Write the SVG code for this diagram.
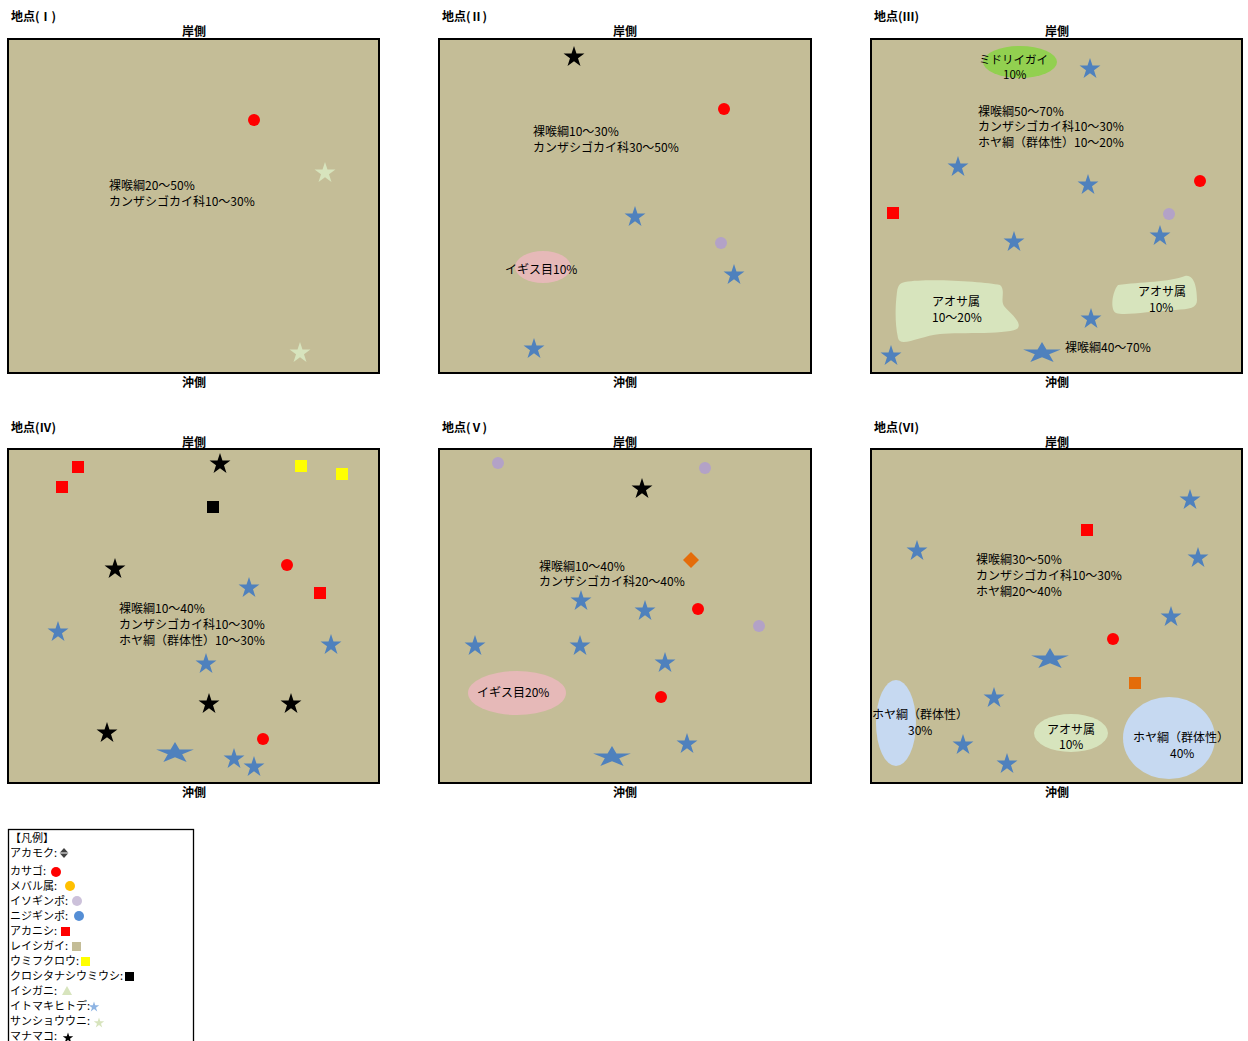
<svg xmlns="http://www.w3.org/2000/svg" xmlns:xlink="http://www.w3.org/1999/xlink" width="1248" height="1041" viewBox="0 0 1248 1041">
<style>
text{font-family:"Noto Sans CJK JP","Liberation Sans",sans-serif;fill:#000;}
.t{font-size:12px;}
.title{font-size:12px;font-weight:bold;}
.side{font-size:12px;font-weight:bold;text-anchor:middle;}
.lg{font-size:11px;}
.panel{fill:#C4BD97;stroke:#000;stroke-width:2;}
.bs{fill:#4F81BD;}
.ks{fill:#000;}
.ps{fill:#D7E4BD;}
.red{fill:#FF0000;}
.pur{fill:#B3A2C7;}
.yel{fill:#FFFF00;}
.org{fill:#E46C0A;}
.blk{fill:#000;}
.aosa{fill:#D7E4BD;}
.pink{fill:#E6B9B8;}
.hoya{fill:#C6D9F1;}
</style>
<defs>
<path id="star" d="M0,-11 L2.469,-3.398 L10.462,-3.399 L3.994,1.298 L6.466,8.899 L0,4.2 L-6.466,8.899 L-3.994,1.298 L-10.462,-3.399 L-2.469,-3.398 Z"/>
</defs>
<rect width="1248" height="1041" fill="#fff"/>

<g id="panel-1">
<text class="title" x="11" y="21">地点(Ⅰ)</text>
<text class="side" x="194" y="36">岸側</text>
<rect class="panel" x="8" y="39" width="371" height="334"/>
<text class="side" x="194" y="387">沖側</text>
<circle class="red" cx="254" cy="120" r="6"/>
<use href="#star" class="ps" x="325" y="173"/>
<use href="#star" class="ps" x="300" y="353"/>
<text class="t" x="109" y="190">裸喉綱20～50%<tspan x="109" y="206">カンザシゴカイ科10～30%</tspan></text>
</g>

<g id="panel-2">
<text class="title" x="442" y="21">地点(Ⅱ)</text>
<text class="side" x="625" y="36">岸側</text>
<rect class="panel" x="439" y="39" width="372" height="334"/>
<text class="side" x="625" y="387">沖側</text>
<use href="#star" class="ks" x="574" y="57"/>
<circle class="red" cx="724" cy="109" r="6"/>
<text class="t" x="533" y="136">裸喉綱10～30%<tspan x="533" y="152">カンザシゴカイ科30～50%</tspan></text>
<use href="#star" class="bs" x="635" y="217"/>
<circle class="pur" cx="721" cy="243" r="6"/>
<use href="#star" class="bs" x="734" y="275"/>
<ellipse class="pink" cx="543" cy="267" rx="28" ry="16"/>
<text class="t" x="505" y="274">イギス目10%</text>
<use href="#star" class="bs" x="534" y="349"/>
</g>

<g id="panel-3">
<text class="title" x="874" y="21">地点(Ⅲ)</text>
<text class="side" x="1057" y="36">岸側</text>
<rect class="panel" x="871" y="39" width="371" height="334"/>
<text class="side" x="1057" y="387">沖側</text>
<ellipse cx="1020" cy="62" rx="37" ry="16" fill="#92D050"/>
<text class="t" x="979" y="64" style="font-size:11.5px">ミドリイガイ</text>
<text class="t" x="1003" y="79" style="font-size:11.5px">10%</text>
<use href="#star" class="bs" x="1090" y="69"/>
<text class="t" x="978" y="116">裸喉綱50～70%<tspan x="978" y="131">カンザシゴカイ科10～30%</tspan><tspan x="978" y="147">ホヤ綱（群体性）10～20%</tspan></text>
<use href="#star" class="bs" x="958" y="167"/>
<use href="#star" class="bs" x="1088" y="185"/>
<circle class="red" cx="1200" cy="181" r="6"/>
<rect class="red" x="887" y="207" width="12" height="12"/>
<circle class="pur" cx="1169" cy="214" r="6"/>
<use href="#star" class="bs" x="1014" y="242"/>
<use href="#star" class="bs" x="1160" y="236"/>
<path class="aosa" d="M905,282 C930,278 985,282 1000,285 C1006,290 1000,300 1004,306 C1010,313 1022,322 1018,328 C1012,335 960,332 940,334 C920,336 900,348 898,338 C894,320 896,300 897,292 C898,285 900,283 905,282 Z"/>
<text class="t" x="932" y="306">アオサ属</text>
<text class="t" x="932" y="322">10～20%</text>
<path class="aosa" d="M1118,285 C1140,282 1170,282 1185,276 C1195,274 1197,290 1197,300 C1197,308 1190,309 1175,310 C1150,311 1125,316 1116,313 C1110,310 1112,292 1118,285 Z"/>
<text class="t" x="1138" y="296">アオサ属</text>
<text class="t" x="1149" y="312">10%</text>
<use href="#star" class="bs" x="1091" y="319"/>
<use href="#star" class="bs" transform="translate(1042,353) scale(1.8,1)"/>
<text class="t" x="1065" y="352">裸喉綱40～70%</text>
<use href="#star" class="bs" x="891" y="356"/>
</g>

<g id="panel-4">
<text class="title" x="11" y="432">地点(Ⅳ)</text>
<text class="side" x="194" y="447">岸側</text>
<rect class="panel" x="8" y="449" width="371" height="334"/>
<text class="side" x="194" y="797">沖側</text>
<rect class="red" x="72" y="461" width="12" height="12"/>
<rect class="red" x="56" y="481" width="12" height="12"/>
<use href="#star" class="ks" x="220" y="464"/>
<rect class="blk" x="207" y="501" width="12" height="12"/>
<rect class="yel" x="295" y="460" width="12" height="12"/>
<rect class="yel" x="336" y="468" width="12" height="12"/>
<use href="#star" class="ks" x="115" y="569"/>
<circle class="red" cx="287" cy="565" r="6"/>
<use href="#star" class="bs" x="249" y="588"/>
<rect class="red" x="314" y="587" width="12" height="12"/>
<text class="t" x="119" y="613">裸喉綱10～40%<tspan x="119" y="629">カンザシゴカイ科10～30%</tspan><tspan x="119" y="645">ホヤ綱（群体性）10～30%</tspan></text>
<use href="#star" class="bs" x="58" y="632"/>
<use href="#star" class="bs" x="331" y="645"/>
<use href="#star" class="bs" x="206" y="664"/>
<use href="#star" class="ks" x="209" y="704"/>
<use href="#star" class="ks" x="291" y="704"/>
<use href="#star" class="ks" x="107" y="733"/>
<circle class="red" cx="263" cy="739" r="6"/>
<use href="#star" class="bs" transform="translate(175,753) scale(1.8,1)"/>
<use href="#star" class="bs" x="234" y="759"/>
<use href="#star" class="bs" x="254" y="767"/>
</g>

<g id="panel-5">
<text class="title" x="442" y="432">地点(Ⅴ)</text>
<text class="side" x="625" y="447">岸側</text>
<rect class="panel" x="439" y="449" width="372" height="334"/>
<text class="side" x="625" y="797">沖側</text>
<circle class="pur" cx="498" cy="463" r="6"/>
<circle class="pur" cx="705" cy="468" r="6"/>
<use href="#star" class="ks" x="642" y="489"/>
<polygon class="org" points="691,552 699,560 691,568 683,560"/>
<text class="t" x="539" y="571">裸喉綱10～40%<tspan x="539" y="586">カンザシゴカイ科20～40%</tspan></text>
<use href="#star" class="bs" x="581" y="601"/>
<use href="#star" class="bs" x="645" y="611"/>
<circle class="red" cx="698" cy="609" r="6"/>
<circle class="pur" cx="759" cy="626" r="6"/>
<use href="#star" class="bs" x="475" y="646"/>
<use href="#star" class="bs" x="580" y="646"/>
<use href="#star" class="bs" x="665" y="663"/>
<ellipse class="pink" cx="517" cy="693" rx="49" ry="22"/>
<text class="t" x="477" y="697">イギス目20%</text>
<circle class="red" cx="661" cy="697" r="6"/>
<use href="#star" class="bs" x="687" y="744"/>
<use href="#star" class="bs" transform="translate(612,757) scale(1.8,1)"/>
</g>

<g id="panel-6">
<text class="title" x="874" y="432">地点(Ⅵ)</text>
<text class="side" x="1057" y="447">岸側</text>
<rect class="panel" x="871" y="449" width="371" height="334"/>
<text class="side" x="1057" y="797">沖側</text>
<use href="#star" class="bs" x="1190" y="500"/>
<rect class="red" x="1081" y="524" width="12" height="12"/>
<use href="#star" class="bs" x="917" y="551"/>
<use href="#star" class="bs" x="1198" y="558"/>
<text class="t" x="976" y="564">裸喉綱30～50%<tspan x="976" y="580">カンザシゴカイ科10～30%</tspan><tspan x="976" y="596">ホヤ綱20～40%</tspan></text>
<use href="#star" class="bs" x="1171" y="617"/>
<circle class="red" cx="1113" cy="639" r="6"/>
<use href="#star" class="bs" transform="translate(1050,659) scale(1.8,1)"/>
<rect class="org" x="1129" y="677" width="12" height="12"/>
<ellipse class="hoya" cx="896" cy="723" rx="20" ry="43"/>
<text class="t" x="872" y="719">ホヤ綱（群体性）</text>
<text class="t" x="908" y="735">30%</text>
<use href="#star" class="bs" x="994" y="698"/>
<use href="#star" class="bs" x="963" y="745"/>
<use href="#star" class="bs" x="1007" y="764"/>
<ellipse class="aosa" cx="1071" cy="733" rx="37" ry="19"/>
<text class="t" x="1047" y="734">アオサ属</text>
<text class="t" x="1059" y="749">10%</text>
<ellipse class="hoya" cx="1169" cy="738" rx="46" ry="41"/>
<text class="t" x="1133" y="742">ホヤ綱（群体性）</text>
<text class="t" x="1170" y="758">40%</text>
</g>

<g id="legend">
<rect x="8.5" y="829.5" width="185" height="240" fill="#fff" stroke="#000" stroke-width="1.3"/>
<text class="lg" x="10" y="842">【凡例】</text>
<text class="lg" x="10" y="857">アカモク:</text>
<polygon points="64,848 68.5,853 64,858 59.5,853" fill="#404040"/>
<line x1="59" y1="853" x2="69" y2="853" stroke="#fff" stroke-width="1"/>
<text class="lg" x="10" y="875">カサゴ:</text>
<circle cx="56" cy="872" r="5" fill="#FF0000"/>
<text class="lg" x="10" y="890">メバル属:</text>
<circle cx="70" cy="886" r="5" fill="#FFC000"/>
<text class="lg" x="10" y="905">イソギンポ:</text>
<circle cx="77" cy="901" r="5" fill="#CCC1DA"/>
<text class="lg" x="10" y="920">ニジギンポ:</text>
<circle cx="79" cy="916" r="5" fill="#558ED5"/>
<text class="lg" x="10" y="935">アカニシ:</text>
<rect x="61" y="927" width="9" height="9" fill="#FF0000"/>
<text class="lg" x="10" y="950">レイシガイ:</text>
<rect x="72" y="942" width="9" height="9" fill="#C4BD97"/>
<text class="lg" x="10" y="965">ウミフクロウ:</text>
<rect x="81" y="957" width="9" height="9" fill="#FFFF00"/>
<text class="lg" x="10" y="980">クロシタナシウミウシ:</text>
<rect x="125" y="972" width="9" height="9" fill="#000"/>
<text class="lg" x="10" y="995">イシガニ:</text>
<polygon points="67,986 72,995 62,995" fill="#D7E4BD"/>
<text class="lg" x="10" y="1010">イトマキヒトデ:</text>
<use href="#star" fill="#8EB4E3" transform="translate(94,1007) scale(0.5)"/>
<text class="lg" x="10" y="1025">サンショウウニ:</text>
<use href="#star" fill="#D7E4BD" transform="translate(99,1023) scale(0.5)"/>
<text class="lg" x="10" y="1040">マナマコ:</text>
<use href="#star" fill="#000" transform="translate(68,1038) scale(0.5)"/>
</g>
</svg>
